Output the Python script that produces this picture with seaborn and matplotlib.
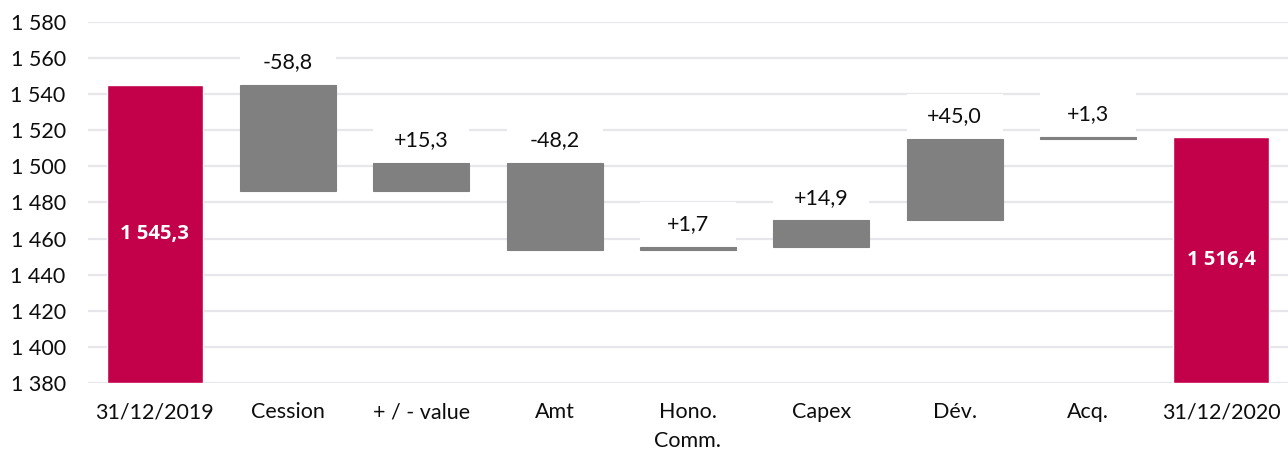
import matplotlib
matplotlib.use("Agg")
import matplotlib.pyplot as plt
from matplotlib.patches import Rectangle
from matplotlib.ticker import FuncFormatter
import numpy as np
import pandas as pd
import seaborn as sns

# Bridge of the portfolio value between the two year-ends (M€)
categories = ["31/12/2019", "Cession", "+ / - value", "Amt", "Hono.\nComm.",
              "Capex", "Dév.", "Acq.", "31/12/2020"]
opening = 1545.3
closing = 1516.4
changes = [-58.8, 15.3, -48.2, 1.7, 14.9, 45.0, 1.3]
y_ticks = list(range(1380, 1581, 20))

TOTAL_COLOR = "#C3004A"
STEP_COLOR = "#808080"
GRID_COLOR = "#E6E6EB"
TEXT_COLOR = "#0d0d0d"
BAR_WIDTH = 0.72
AXIS_FLOOR = 1380
FS = 15.5

# floating-bar geometry for the step changes
levels = opening + np.concatenate([[0.0], np.cumsum(changes)])
step_bottom = np.minimum(levels[:-1], levels[1:])
step_top = np.maximum(levels[:-1], levels[1:])

totals = pd.DataFrame({"cat": [categories[0], categories[-1]],
                       "height": [opening - AXIS_FLOOR, closing - AXIS_FLOOR]})
steps = pd.DataFrame({"cat": categories[1:-1], "height": step_top - step_bottom})

sns.set_theme(style="white")
plt.rcParams["font.family"] = ["Lato", "DejaVu Sans"]

fig = plt.figure(figsize=(12.88, 4.53), dpi=100)
ax = fig.add_axes([0.0683, 0.1545, 0.9317, 0.797])

sns.barplot(data=totals, x="cat", y="height", order=categories, color=TOTAL_COLOR,
            saturation=1, width=BAR_WIDTH, bottom=AXIS_FLOOR, ax=ax, zorder=3,
            errorbar=None)
sns.barplot(data=steps, x="cat", y="height", order=categories, color=STEP_COLOR,
            saturation=1, width=BAR_WIDTH, bottom=step_bottom, ax=ax, zorder=3,
            errorbar=None, linewidth=0.8, edgecolor=STEP_COLOR)

ax.set_ylim(1380, 1580)
ax.set_xlim(-0.5, len(categories) - 0.5)
ax.set_yticks(y_ticks)
ax.yaxis.set_major_formatter(FuncFormatter(lambda v, _: f"{int(v):,}".replace(",", " ")))
ax.grid(axis="y", color=GRID_COLOR, linewidth=1.6, zorder=0)
ax.set_axisbelow(True)
for s in ax.spines.values():
    s.set_visible(False)
ax.set_xlabel("")
ax.set_ylabel("")
ax.tick_params(axis="y", length=0, pad=16, labelsize=FS, labelcolor=TEXT_COLOR)
ax.tick_params(axis="x", length=0, pad=14, labelsize=FS, labelcolor=TEXT_COLOR)
for lab in ax.get_xticklabels():
    lab.set_linespacing(1.55)

# value labels for the two totals, inside the bars
for i, v in ((0, opening), (len(categories) - 1, closing)):
    txt = f"{v:,.1f}".replace(",", " ").replace(".", ",")
    ax.text(i, (AXIS_FLOOR + v) / 2, txt, ha="center", va="center",
            color="white", fontsize=14.5, fontweight="bold",
            family=["Open Sans", "DejaVu Sans"], zorder=5)

# value labels for the steps, on white tags sitting on the bars
tag_h = 25
for k, d in enumerate(changes):
    i = k + 1
    top = step_top[k]
    ax.add_patch(Rectangle((i - BAR_WIDTH / 2, top), BAR_WIDTH, tag_h,
                           facecolor="white", edgecolor="none", zorder=2))
    txt = f"{d:+.1f}".replace(".", ",")
    ax.text(i, top + tag_h / 2, txt, ha="center", va="center",
            color=TEXT_COLOR, fontsize=FS, zorder=5)

fig.savefig("out.png", dpi=100)
